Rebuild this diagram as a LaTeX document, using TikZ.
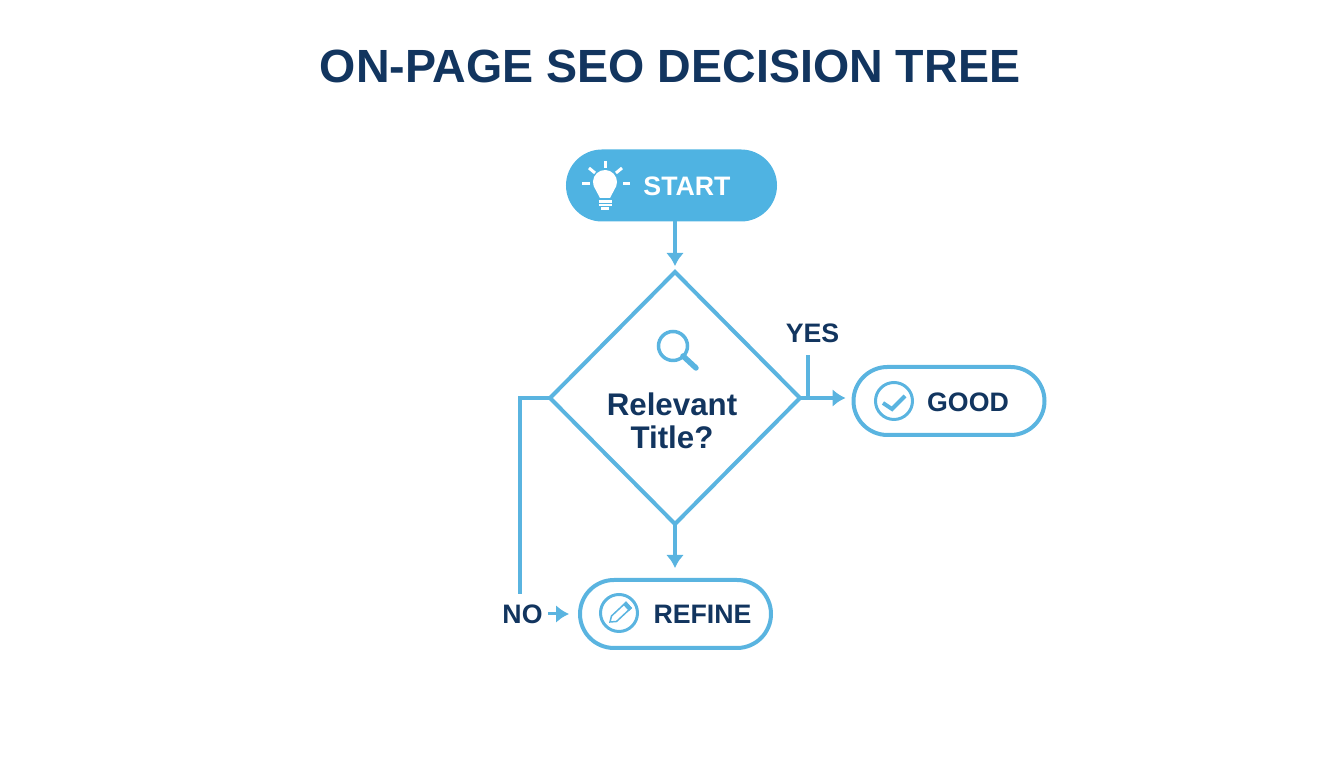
\documentclass[tikz,border=0pt]{standalone}
\usepackage{fontspec}
\setmainfont{Liberation Sans}
\usetikzlibrary{%
  arrows.meta,%
  calc,%
  shapes.geometric,%
  shapes.misc%
}
\definecolor{skyline}{HTML}{5AB4E0}
\definecolor{skyfill}{HTML}{4FB3E2}
\definecolor{navytext}{HTML}{12355F}
\tikzset{>={Latex[length=0.13cm,width=0.18cm]}}
\tikzset{
  pill/.style={draw=skyline,line width=0.04cm,rounded rectangle,minimum width=1.91cm,minimum height=0.68cm,inner sep=0},
  link/.style={draw=skyline,line width=0.04cm},
  word/.style={text=navytext,font=\bfseries\fontsize{7.6}{9}\selectfont,inner sep=0},
  icon/.style={draw=skyline,line width=0.03cm}
}

\begin{document}
\begin{tikzpicture}
      \useasboundingbox (0,0) rectangle (13.44,7.68);

      \node[word,font=\bfseries\fontsize{13.25}{15}\selectfont] (title) at (6.70,7.02) {ON-PAGE SEO DECISION TREE};

      \node[pill,fill=skyfill,draw=skyfill,minimum width=2.07cm] (start) at (6.715,5.825) {};
      \node[word,text=white] (startword) at (6.87,5.82) {START};
      \node[diamond,draw=skyline,line width=0.04cm,minimum width=2.50cm,minimum height=2.52cm,inner sep=0,outer sep=0] (check) at (6.75,3.70) {};
      \node[word,align=center,font=\bfseries\fontsize{8.9}{9.4}\selectfont] (question) at (6.72,3.47) {Relevant\\Title?};
      \node[pill] (good) at (9.49,3.67) {};
      \node[word] (goodword) at (9.68,3.66) {GOOD};
      \node[pill] (refine) at (6.755,1.54) {};
      \node[word] (refineword) at (7.025,1.54) {REFINE};
      \node[word] (yes) at (8.125,4.35) {YES};
      \node[word] (no) at (5.225,1.54) {NO};

      \coordinate (yesfoot) at (8.08,3.70);
      \coordinate (yestop) at (8.08,4.13);
      \coordinate (noend) at (5.20,1.74);

      \draw[link,->,shorten >=0.06cm] (check.north |- start.south) -- (check.north);
      \draw[link,->,shorten >=0.10cm] (check.south) -- (check.south |- refine.north);
      \draw[link,->,shorten >=0.06cm] (check.east) -- (check.east -| good.west);
      \draw[link] (yesfoot) -- (yestop);
      \draw[link] (check.west) -| (noend);
      \draw[link,line width=0.03cm,->,shorten <=0.05cm,shorten >=0.09cm] (no) -- (refine);

      % bulb
      \fill[white] (5.937,5.819) arc (200:-20:0.12) -- (6.10,5.70) -- (6.00,5.70) -- cycle;
      \foreach \a/\b/\c/\d in {6.05/6.07/6.05/6.00, 5.89/6.00/5.95/5.95, 6.22/6.00/6.16/5.95, 5.82/5.84/5.90/5.84, 6.23/5.84/6.30/5.84}
        \draw[white,line width=0.03cm] (\a,\b) -- (\c,\d);
      \draw[white,line width=0.022cm] (5.985,5.665) -- (6.115,5.665);
      \draw[white,line width=0.022cm] (5.985,5.63) -- (6.115,5.63);
      \draw[white,line width=0.022cm] (6.01,5.595) -- (6.09,5.595);

      % magnifier
      \draw[skyline,line width=0.035cm] (6.73,4.22) circle (0.145);
      \draw[skyline,line width=0.055cm,line cap=round] (6.83,4.12) -- (6.96,4.00);

      % check mark
      \draw[icon] (8.94,3.67) circle (0.185);
      \draw[skyline,line width=0.04cm] (8.83,3.65) -- (8.92,3.59) -- (9.05,3.72);

      % pencil
      \draw[icon] (6.19,1.55) circle (0.185);
      \draw[skyline,line width=0.015cm,fill=white] (6.10,1.46) -- (6.115,1.52) -- (6.26,1.655) -- (6.31,1.60) -- (6.165,1.465) -- cycle;
      \draw[skyline,line width=0.015cm,fill=skyline] (6.24,1.635) -- (6.26,1.655) -- (6.31,1.60) -- (6.29,1.58) -- cycle;
\end{tikzpicture}
\end{document}
